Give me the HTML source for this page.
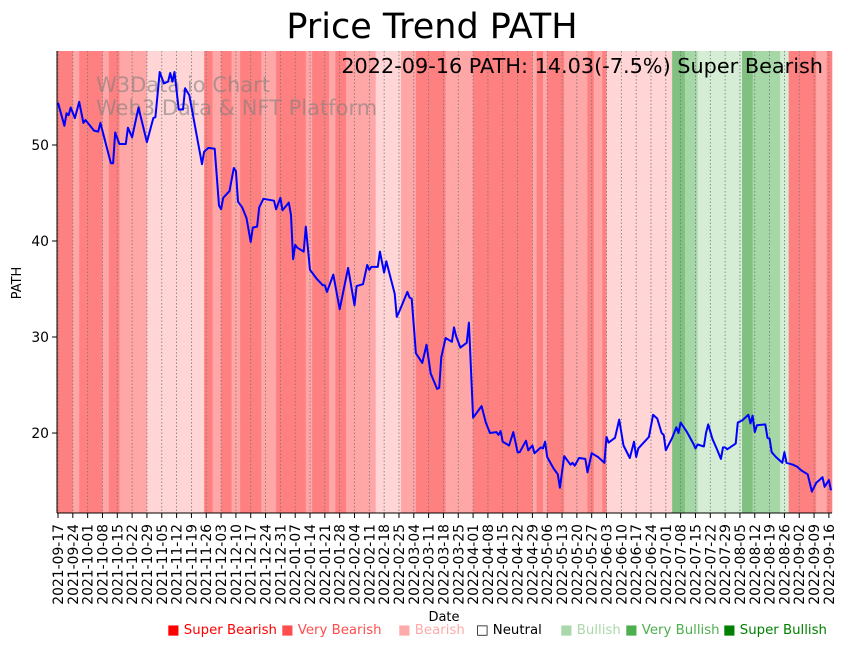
<!DOCTYPE html>
<html><head><meta charset="utf-8">
<style>
body{margin:0;background:#fff;}
svg{display:block;font-family:"DejaVu Sans","Liberation Sans",sans-serif;}
</style></head>
<body>
<svg id="chart" width="848" height="646" viewBox="0 0 848 646" xmlns="http://www.w3.org/2000/svg">
<g id="bands"></g>
<g id="grid"></g>
<g id="watermark">
<text x="96" y="92" font-size="21" fill="#808080" fill-opacity="0.6">W3Data.io Chart</text>
<text x="96" y="115" font-size="21" fill="#808080" fill-opacity="0.6">Web3 Data &amp; NFT Platform</text>
</g>
<path id="line" fill="none" stroke="#0000ff" stroke-width="2" stroke-linejoin="round"></path>
<text x="823" y="73" font-size="20.8" text-anchor="end" fill="#000">2022-09-16 PATH: 14.03(-7.5%) Super Bearish</text>
<g id="axes"></g>
<text x="432" y="38" font-size="35" text-anchor="middle" fill="#000">Price Trend PATH</text>
<text x="444" y="621" font-size="13" text-anchor="middle">Date</text>
<text transform="translate(21,283) rotate(-90)" font-size="13" text-anchor="middle">PATH</text>
<g id="legend" font-size="13.3"></g>
</svg>
<script>
const startDate = "2021-09-17";
const totalDays = 365;
const priceDays = [0,3,4,5,6,8,10,12,13,17,19,20,25,26,27,29,32,33,35,38,41,42,45,46,48,50,52,53,54,55,57,59,60,62,68,69,71,74,76,77,78,81,83,84,85,87,89,91,92,94,95,97,102,103,105,106,109,110,111,112,113,116,117,119,122,125,126,127,130,133,137,140,141,144,146,147,148,151,152,154,155,159,160,161,165,166,167,169,172,174,176,179,180,181,183,186,187,188,190,193,194,196,200,202,204,207,208,209,210,213,215,217,218,221,222,224,225,228,229,230,231,234,236,237,239,242,243,244,246,249,250,252,255,258,259,260,263,265,267,270,272,273,274,279,281,283,285,286,287,290,292,293,294,297,300,301,302,305,306,307,309,311,313,314,315,316,320,321,323,326,327,328,329,330,334,335,336,337,339,342,343,344,347,349,351,354,356,358,361,362,364,365];
const priceValues = [54.4,52.0,53.3,53.1,53.9,52.8,54.5,52.3,52.6,51.5,51.4,52.3,48.1,48.1,51.3,50.1,50.1,51.8,50.8,53.9,51.2,50.3,52.8,52.9,57.6,56.4,56.6,57.5,56.6,57.6,53.7,53.7,55.9,55.2,48.0,49.3,49.7,49.6,43.7,43.3,44.5,45.2,47.6,47.3,44.1,43.5,42.4,39.9,41.4,41.5,43.5,44.4,44.2,43.3,44.5,43.2,44.0,42.7,38.1,39.6,39.3,38.9,41.5,37.0,36.1,35.4,35.4,34.7,36.5,32.9,37.2,33.3,35.3,35.5,37.5,37.0,37.3,37.3,38.9,36.7,37.9,34.5,32.1,32.6,34.7,34.1,34.0,28.3,27.3,29.2,26.2,24.6,24.7,27.9,29.9,29.5,31.0,30.1,28.9,29.4,31.5,21.6,22.8,21.1,20.0,20.1,19.8,20.2,19.1,18.7,20.1,18.0,18.0,19.2,18.2,18.7,17.9,18.5,18.4,19.1,17.5,16.3,15.7,14.3,17.6,16.7,16.9,16.6,17.4,17.3,15.9,17.9,17.5,16.9,19.6,19.0,19.5,21.4,18.7,17.4,19.1,17.5,18.4,19.6,21.9,21.5,20.0,19.8,18.2,19.5,20.6,20.0,21.1,20.1,18.9,18.4,18.8,18.6,20.0,20.9,19.4,18.4,17.3,18.5,18.5,18.3,18.9,21.1,21.3,21.9,21.0,21.8,20.1,20.8,20.9,19.5,19.4,18.0,17.5,16.9,18.0,16.9,16.7,16.5,16.1,15.7,13.9,14.8,15.4,14.4,15.1,14.03];
const bandStarts = [0,7,10,21,24,29,42,69,73,77,82,86,96,103,117,120,128,131,136,150,162,169,183,196,224,226,229,231,239,250,253,257,259,290,296,302,323,328,341,345,358,363];
const bandLevels = [-3,-2,-3,-2,-3,-2,-1,-3,-2,-3,-2,-3,-2,-3,-2,-3,-2,-3,-2,-1,-2,-3,-2,-3,-2,-3,-2,-3,-2,-3,-2,-3,-1,3,2,1,3,2,1,-3,-2,-3];
const yTicks = [20,30,40,50];
const legendLabels = ["Super Bearish","Very Bearish","Bearish","Neutral","Bullish","Very Bullish","Super Bullish"];

const NS="http://www.w3.org/2000/svg";
const L=57,R=832,T=51,B=513;
const yMin=11.67,yMax=59.79;
const xs=d=>58+d*(831-58)/totalDays;
const ys=v=>B-(v-yMin)/(yMax-yMin)*(B-T);
function mk(tag,attrs,parent){const e=document.createElementNS(NS,tag);for(const k in attrs)e.setAttribute(k,attrs[k]);parent.appendChild(e);return e;}
const bandFill={"-3":"#ff8080","-2":"#ffa6a6","-1":"#ffd5d5","0":"#ffffff","1":"#d5edd5","2":"#a6d7a6","3":"#80c080"};

const bg=document.getElementById('bands');
for(let i=0;i<bandStarts.length;i++){
  const x0=i===0?L:xs(bandStarts[i]);
  const x1=i===bandStarts.length-1?R:xs(bandStarts[i+1]);
  const r=mk('rect',{x:x0,y:T,width:x1-x0+0.3,height:B-T,fill:bandFill[bandLevels[i]]},bg);
  
  
}

const grid=document.getElementById('grid');
const axes=document.getElementById('axes');
const base=new Date(startDate+"T00:00:00Z");
for(let d=0;d<=totalDays;d+=7){
  const x=xs(d);
  const gl=mk('line',{x1:x,x2:x,y1:T,y2:B,stroke:'#777',"stroke-width":0.8,"stroke-dasharray":"1.5,2"},grid);
  
  
  mk('line',{x1:x,x2:x,y1:B,y2:B+5,stroke:'#000',"stroke-width":1},axes);
  const dt=new Date(base.getTime()+d*86400000);
  const lab=dt.toISOString().slice(0,10);
  const t=mk('text',{transform:`translate(${x+5},${B+11}) rotate(-90)`,"font-size":13.9,"text-anchor":"end"},axes);
  t.textContent=lab;
  
  
}
yTicks.forEach(v=>{
  const y=ys(v);
  mk('line',{x1:L-5,x2:L,y1:y,y2:y,stroke:'#000',"stroke-width":1},axes);
  const t=mk('text',{x:L-8,y:y+5,"font-size":13.9,"text-anchor":"end"},axes);
  t.textContent=v;
  
  
});
const sl=mk('line',{x1:L,x2:L,y1:T,y2:B,stroke:'#000',"stroke-width":1},axes);


const sb=mk('line',{x1:L,x2:R,y1:B,y2:B,stroke:'#000',"stroke-width":1},axes);



let dstr='';
priceDays.forEach((d,i)=>{dstr+=(i?'L':'M')+xs(d).toFixed(1)+','+ys(priceValues[i]).toFixed(1);});
document.getElementById('line').setAttribute('d',dstr);

const lg=document.getElementById('legend');
const legX=[167,281,398,476,560,625,723];
const legCol=["#ff0000","#ff4d4d","#ffaaaa","#000000","#aad8aa","#4daf4d","#008000"];
legendLabels.forEach((lab,i)=>{
  const t=mk('text',{x:legX[i],y:634,fill:legCol[i]},lg);
  t.textContent=(i===3?'\u25A1 ':'\u25A0 ')+lab;
  
  
});
</script>
</body></html>
